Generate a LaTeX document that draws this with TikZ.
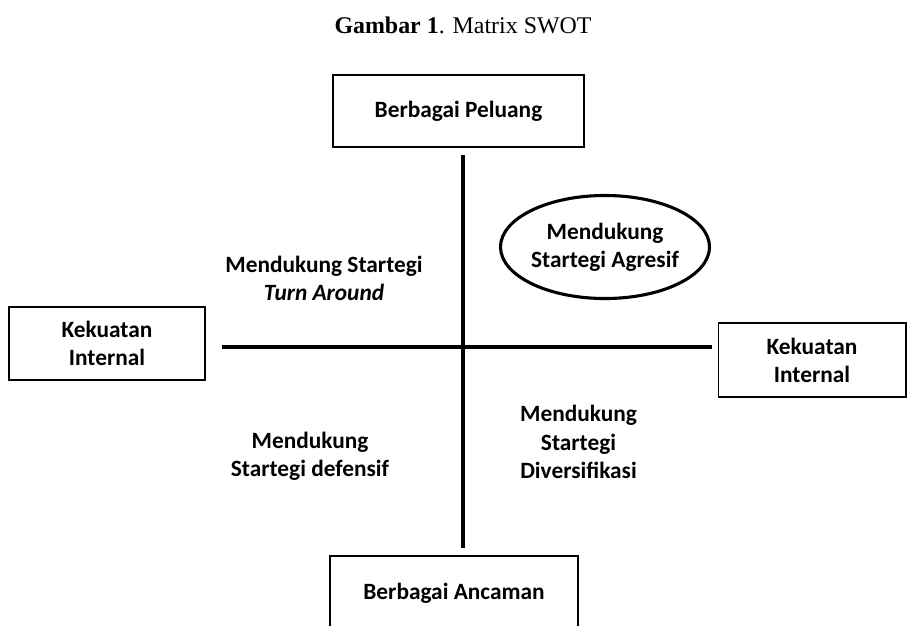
\documentclass[tikz,border=0pt]{standalone}
\usepackage{fontspec}
\setmainfont{Liberation Serif}
\newfontfamily\calibri{Carlito}
\usetikzlibrary{shapes.geometric}
\tikzset{
  every picture/.style={line width=1.4pt},
  box/.style={draw, rectangle, align=center, inner sep=0pt, font=\calibri\bfseries\fontsize{16.6}{20}\selectfont},
  oval/.style={draw, ellipse, align=center, inner sep=0pt, line width=2.2pt, minimum width=5.1cm, minimum height=2.575cm, font=\calibri\bfseries\fontsize{16.6}{20}\selectfont},
  lbl/.style={align=center, font=\calibri\bfseries\fontsize{16.6}{20}\selectfont},
  axis/.style={line width=3.3pt},
  caption/.style={font=\fontsize{17}{20}\selectfont},
}

\begin{document}
\begin{tikzpicture}[x=0.025cm, y=-0.025cm]
  \useasboundingbox (0,0) rectangle (907,625);
  \node[caption] (cap) at (463,25) {\textbf{Gambar 1}. Matrix SWOT};

  % the four boxes
  \node[box, minimum width=6.275cm, minimum height=1.8cm] (peluang) at (458.5,111) {Berbagai Peluang};
  \node[box, minimum width=4.9cm, minimum height=1.825cm] (kiri) at (107,343.5) {Kekuatan\\Internal};
  \node[box, minimum width=4.675cm, minimum height=1.85cm] (kanan) at (812,360) {Kekuatan\\Internal};
  \node[box, minimum width=6.2cm, minimum height=1.85cm] (ancaman) at (454,593) {Berbagai Ancaman};

  % axes
  \coordinate (vtop) at (463,155);
  \coordinate (vbot) at (463,548);
  \coordinate (hleft) at (222,347);
  \coordinate (hright) at (712,347);
  \draw[axis] (vtop) -- (vbot);
  \draw[axis] (hleft) -- (hright);

  % quadrants
  \node[lbl] (turn) at (324,278) {Mendukung Startegi\\\textit{Turn Around}};
  \node[oval] (agresif) at (605,247) {Mendukung\\Startegi Agresif};
  \node[lbl] (defensif) at (310,456) {Mendukung\\Startegi defensif};
  \node[lbl] (diversi) at (578.5,442) {Mendukung\\Startegi\\Diversifikasi};
\end{tikzpicture}
\end{document}
